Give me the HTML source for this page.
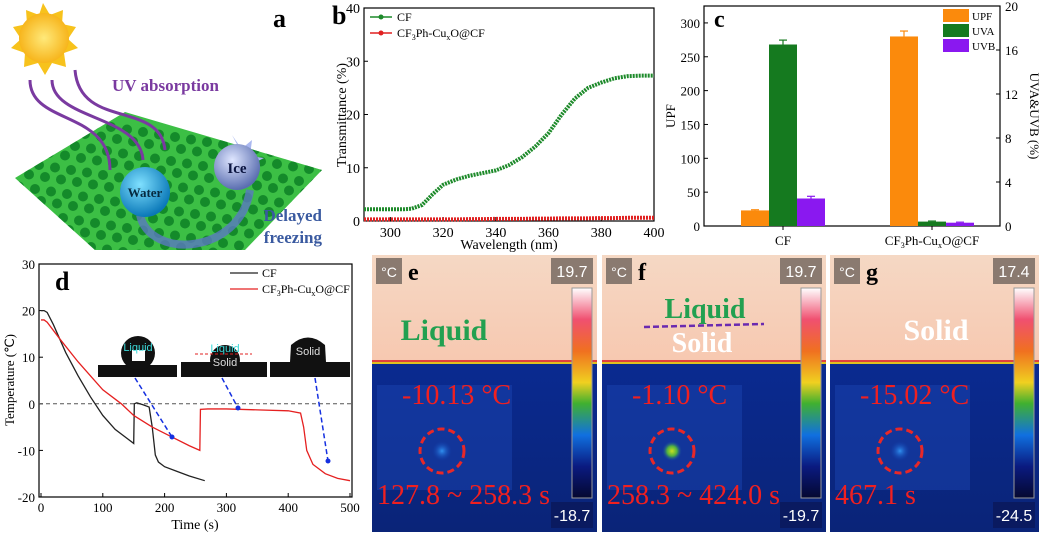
<!DOCTYPE html>
<html><head><meta charset="utf-8"><style>
body{margin:0;background:#fff;width:1041px;height:534px;overflow:hidden}
svg{display:block;font-family:"Liberation Serif",serif}
</style></head><body>
<svg id="s" width="1041" height="534" viewBox="0 0 1041 534">
<defs>
<radialGradient id="sun" cx="50%" cy="50%" r="50%"><stop offset="0" stop-color="#ffe97a"/><stop offset="1" stop-color="#f7b51c"/></radialGradient>
<radialGradient id="water" cx="40%" cy="35%" r="65%"><stop offset="0" stop-color="#7fe0ff"/><stop offset="1" stop-color="#0a78b8"/></radialGradient>
<radialGradient id="ice" cx="40%" cy="35%" r="65%"><stop offset="0" stop-color="#dfe6ff"/><stop offset="1" stop-color="#5a6eb0"/></radialGradient>
<linearGradient id="cbar" x1="0" y1="0" x2="0" y2="1"><stop offset="0" stop-color="#fff"/><stop offset="0.15" stop-color="#f05070"/><stop offset="0.3" stop-color="#f07020"/><stop offset="0.45" stop-color="#f0d020"/><stop offset="0.55" stop-color="#40b030"/><stop offset="0.7" stop-color="#1070e0"/><stop offset="0.85" stop-color="#0a1a80"/><stop offset="1" stop-color="#050830"/></linearGradient>
<linearGradient id="top" x1="0" y1="0" x2="0" y2="1"><stop offset="0" stop-color="#f5d8c4"/><stop offset="1" stop-color="#f7c8b0"/></linearGradient>
<linearGradient id="bot" x1="0" y1="0" x2="0" y2="1"><stop offset="0" stop-color="#0a2a90"/><stop offset="1" stop-color="#0a2478"/></linearGradient>
<radialGradient id="spotE"><stop offset="0" stop-color="#3090f0"/><stop offset="1" stop-color="#1040b0" stop-opacity="0"/></radialGradient>
<radialGradient id="spotF"><stop offset="0" stop-color="#c8e020"/><stop offset="0.5" stop-color="#50b040"/><stop offset="1" stop-color="#1040b0" stop-opacity="0"/></radialGradient>
<clipPath id="meshclip"><polygon points="15,178 125,112 322,170 245,250 95,250"/></clipPath>
</defs>

<g>
  <polygon points="15,178 125,112 322,170 245,250 95,250" fill="#3cbf45"/>
  <g id="dots" fill="#148a2a" clip-path="url(#meshclip)"></g>
  <g>
    <polygon points="43,3 50,15 63,10 62,24 76,27 68,39 78,48 64,53 66,67 52,63 45,75 38,63 24,67 25,53 11,48 21,39 13,27 27,24 26,10 39,15" fill="#f7c21c"/>
    <circle cx="44" cy="38" r="25" fill="url(#sun)"/>
  </g>
  <g fill="none" stroke="#7a3aa0" stroke-width="3">
    <path d="M30,80 C30,125 110,110 110,170"/>
    <path d="M52,80 C52,120 140,115 143,160"/>
    <path d="M75,70 C80,130 160,100 165,150"/>
  </g>
  <text x="112" y="91" font-size="17" font-weight="bold" fill="#7a3aa0">UV absorption</text>
  <path d="M140,215 C150,260 240,255 250,190" fill="none" stroke="#5a78c0" stroke-width="8" opacity="0.8"/>
  <circle cx="145" cy="192" r="25" fill="url(#water)"/>
  <text x="145" y="197" font-size="13" font-weight="bold" text-anchor="middle" fill="#062a40">Water</text>
  <polygon points="232,135 240,150 252,140 250,156 264,158 252,164" fill="#aab8f0"/>
  <circle cx="237" cy="167" r="23" fill="url(#ice)"/>
  <text x="237" y="173" font-size="15" font-weight="bold" text-anchor="middle" fill="#0a1440">Ice</text>
  <text x="322" y="221" font-size="17" font-weight="bold" text-anchor="end" fill="#3a5aa0">Delayed</text>
  <text x="322" y="243" font-size="17" font-weight="bold" text-anchor="end" fill="#3a5aa0">freezing</text>
  <text x="273" y="27" font-size="26" font-weight="bold">a</text>
</g>

<g id="pb"></g>
<g id="pc"></g>
<g id="pd"></g>
<g id="pe"></g>
</svg>
<script>
const NS="http://www.w3.org/2000/svg";
function mk(p,tag,attrs,txt){const e=document.createElementNS(NS,tag);for(const k in attrs)e.setAttribute(k,attrs[k]);if(txt!==undefined)e.textContent=txt;p.appendChild(e);return e;}

const dots=document.getElementById('dots');
for(let r=0;r<12;r++)for(let c=0;c<20;c++){const x=15+c*16+(r%2)*8-r*2, y=112+r*12+c*2.5; mk(dots,'circle',{cx:x,cy:y,r:5});}

// ===== Panel b data =====
const bWave=[290,295,300,305,308,312,316,320,325,330,335,340,345,350,355,360,365,370,375,380,385,390,395,400];
const bCF=[2.2,2.2,2.2,2.2,2.3,3.0,5.0,6.8,7.8,8.5,9.0,9.5,10.5,12.0,14.0,16.5,20.0,23.0,25.0,26.0,26.8,27.2,27.3,27.3];
const bCu=[0.3,0.3,0.3,0.3,0.3,0.3,0.3,0.3,0.3,0.35,0.35,0.4,0.4,0.4,0.45,0.45,0.5,0.5,0.5,0.55,0.55,0.6,0.6,0.6];
const bYTicks=[0,10,20,30,40];
const bXTicks=[300,320,340,360,380,400];
(function(){
 const g=document.getElementById('pb');
 const X=v=>364+(v-290)/(110)*290, Y=v=>221-v/40*213;
 mk(g,'rect',{x:364,y:8,width:290,height:213,fill:'none',stroke:'#000','stroke-width':1.2});
 bYTicks.forEach(t=>{mk(g,'line',{x1:364,x2:368,y1:Y(t),y2:Y(t),stroke:'#000'});const l=mk(g,'text',{x:360,y:Y(t)+5,'font-size':14,'text-anchor':'end'},t);});
 bXTicks.forEach(t=>{mk(g,'line',{x1:X(t),x2:X(t),y1:221,y2:217,stroke:'#000'});const l=mk(g,'text',{x:X(t),y:237,'font-size':14,'text-anchor':'middle'},t);});
 const xt=mk(g,'text',{x:509,y:249,'font-size':14,'text-anchor':'middle'},'Wavelength (nm)');
 const yt=mk(g,'text',{x:346,y:115,'font-size':14,'text-anchor':'middle',transform:'rotate(-90 346 115)'},'Transmittance (%)');
 const mkLine=(arr,col,name)=>{const p=mk(g,'polyline',{points:bWave.map((w,i)=>X(w)+','+Y(arr[i])).join(' '),fill:'none',stroke:col,'stroke-width':4,'stroke-dasharray':'2 1'});};
 mkLine(bCF,'#1d8a2a','cf-line');mkLine(bCu,'#e02020','cuxo-line');
 mk(g,'line',{x1:370,x2:392,y1:17,y2:17,stroke:'#1d8a2a','stroke-width':1.5});mk(g,'circle',{cx:381,cy:17,r:2.5,fill:'#1d8a2a'});
 mk(g,'text',{x:397,y:21,'font-size':12},'CF');
 mk(g,'line',{x1:370,x2:392,y1:33,y2:33,stroke:'#e02020','stroke-width':1.5});mk(g,'circle',{cx:381,cy:33,r:2.5,fill:'#e02020'});
 const lt=mk(g,'text',{x:397,y:37,'font-size':12});lt.innerHTML='CF<tspan font-size="8" dy="3">3</tspan><tspan dy="-3">Ph-Cu</tspan><tspan font-size="8" dy="3">x</tspan><tspan dy="-3">O@CF</tspan>';
 mk(g,'text',{x:332,y:24,'font-size':26,'font-weight':'bold'},'b');
})();

// ===== Panel c data =====
const cCats=['CF','CF3Ph-CuxO@CF'];
const cUPF=[23,280];
const cUVA=[16.5,0.4];
const cUVB=[2.5,0.3];
const cUPFerr=[1,8];const cUVAerr=[0.4,0.05];const cUVBerr=[0.2,0.05];
const cLeftTicks=[0,50,100,150,200,250,300];
const cRightTicks=[0,4,8,12,16,20];
(function(){
 const g=document.getElementById('pc');
 const L=704,R=1000,T=6,B=226;
 const Yl=v=>B-v/325*(B-T), Yr=v=>B-v/20*(B-T);
 const catX=[783,932];
 mk(g,'rect',{x:L,y:T,width:R-L,height:B-T,fill:'none',stroke:'#000','stroke-width':1.2});
 cLeftTicks.forEach(t=>{mk(g,'line',{x1:L,x2:L+4,y1:Yl(t),y2:Yl(t),stroke:'#000'});mk(g,'text',{x:L-4,y:Yl(t)+5,'font-size':13,'text-anchor':'end'},t);});
 cRightTicks.forEach(t=>{mk(g,'line',{x1:R,x2:R-4,y1:Yr(t),y2:Yr(t),stroke:'#000'});mk(g,'text',{x:R+5,y:Yr(t)+5,'font-size':13},t);});
 const bw=28;
 const series=[[cUPF,cUPFerr,'#fb8a0c',Yl,'upf-bar'],[cUVA,cUVAerr,'#157a1f',Yr,'uva-bar'],[cUVB,cUVBerr,'#8a18f0',Yr,'uvb-bar']];
 cCats.forEach((c,i)=>{series.forEach((s,j)=>{const x=catX[i]+(j-1)*bw-bw/2;const y=s[3](s[0][i]);const r=mk(g,'rect',{x:x,y:y,width:bw,height:B-y,fill:s[2]});
   const ye=s[3](s[0][i]+s[1][i]);mk(g,'line',{x1:x+bw/2,x2:x+bw/2,y1:ye,y2:y,stroke:s[2],'stroke-width':1.2});mk(g,'line',{x1:x+bw/2-4,x2:x+bw/2+4,y1:ye,y2:ye,stroke:s[2],'stroke-width':1.2});});
   mk(g,'line',{x1:catX[i],x2:catX[i],y1:B,y2:B+4,stroke:'#000'});});
 mk(g,'text',{x:783,y:245,'font-size':13,'text-anchor':'middle'},'CF');
 const ct=mk(g,'text',{x:932,y:245,'font-size':13,'text-anchor':'middle'});ct.innerHTML='CF<tspan font-size="8" dy="3">3</tspan><tspan dy="-3">Ph-Cu</tspan><tspan font-size="8" dy="3">x</tspan><tspan dy="-3">O@CF</tspan>';
 const yl=mk(g,'text',{x:675,y:116,'font-size':13,'text-anchor':'middle',transform:'rotate(-90 675 116)'},'UPF');
 const yr=mk(g,'text',{x:1030,y:116,'font-size':13,'text-anchor':'middle',transform:'rotate(90 1030 116)'},'UVA&UVB (%)');
 [['UPF','#fb8a0c'],['UVA','#157a1f'],['UVB','#8a18f0']].forEach((l,i)=>{mk(g,'rect',{x:943,y:9+i*15,width:26,height:13,fill:l[1]});mk(g,'text',{x:972,y:20+i*15,'font-size':11},l[0]);});
 mk(g,'text',{x:714,y:27,'font-size':24,'font-weight':'bold'},'c');
})();

// ===== Panel d data =====
const dCFt=[0,5,10,20,30,40,60,80,100,120,140,150,151,155,165,175,180,185,190,200,220,240,265];
const dCFv=[20,20,19.6,17,14,11,6,1.5,-2.5,-5.5,-7.5,-8.5,0,0.2,-0.2,-0.7,-5,-11,-12.5,-13.5,-14.5,-15.5,-16.5];
const dCut=[0,5,10,30,60,100,130,150,180,210,240,257,258,270,300,350,400,420,425,430,440,460,480,500];
const dCuv=[18,18,17.5,14,9,3,0,-2.5,-5,-7,-9,-10,-1.2,-1.1,-1.1,-1.3,-1.5,-2,-5,-10,-13,-15,-16,-16.5];
const dYTicks=[-20,-10,0,10,20,30];
const dXTicks=[0,100,200,300,400,500];
(function(){
 const g=document.getElementById('pd');
 const L=39,R=352,T=264,B=497;
 const X=v=>41+v/500*309, Y=v=>B-(v+20)/50*(B-T);
 mk(g,'rect',{x:L,y:T,width:R-L,height:B-T,fill:'#fff',stroke:'#000','stroke-width':1.2});
 dYTicks.forEach(t=>{mk(g,'line',{x1:L,x2:L+4,y1:Y(t),y2:Y(t),stroke:'#000'});mk(g,'text',{x:L-4,y:Y(t)+5,'font-size':13,'text-anchor':'end'},t);});
 dXTicks.forEach(t=>{mk(g,'line',{x1:X(t),x2:X(t),y1:B,y2:B-4,stroke:'#000'});mk(g,'text',{x:X(t),y:B+15,'font-size':13,'text-anchor':'middle'},t);});
 mk(g,'line',{x1:L,x2:R,y1:Y(0),y2:Y(0),stroke:'#555','stroke-dasharray':'4 3'});
 const pl=(t,v,c,n)=>{const p=mk(g,'polyline',{points:t.map((x,i)=>X(x)+','+Y(v[i])).join(' '),fill:'none',stroke:c,'stroke-width':1.3});};
 pl(dCFt,dCFv,'#222','cf-temperature-line');pl(dCut,dCuv,'#e52020','cuxo-temperature-line');
 mk(g,'text',{x:195,y:529,'font-size':14,'text-anchor':'middle'},'Time (s)');
 mk(g,'text',{x:14,y:380,'font-size':13,'text-anchor':'middle',transform:'rotate(-90 14 380)'},'Temperature (℃)');
 mk(g,'line',{x1:230,x2:258,y1:273,y2:273,stroke:'#222','stroke-width':1.3});mk(g,'text',{x:262,y:277,'font-size':12},'CF');
 mk(g,'line',{x1:230,x2:258,y1:289,y2:289,stroke:'#e52020','stroke-width':1.3});
 const lt=mk(g,'text',{x:262,y:293,'font-size':12});lt.innerHTML='CF<tspan font-size="8" dy="3">3</tspan><tspan dy="-3">Ph-Cu</tspan><tspan font-size="8" dy="3">x</tspan><tspan dy="-3">O@CF</tspan>';
 mk(g,'text',{x:55,y:290,'font-size':26,'font-weight':'bold'},'d');
 mk(g,'rect',{x:98,y:365,width:79,height:12,fill:'#111'});mk(g,'circle',{cx:138,cy:353,r:17,fill:'#111'});mk(g,'rect',{x:132,y:350,width:13,height:11,fill:'#fff'});
 mk(g,'text',{x:138,y:351,'font-size':11,'text-anchor':'middle',fill:'#3ad8d8','font-family':'Liberation Sans'},'Liquid');
 mk(g,'rect',{x:181,y:362,width:86,height:15,fill:'#111'});mk(g,'circle',{cx:225,cy:360,r:15,fill:'#111'});
 mk(g,'text',{x:225,y:352,'font-size':11,'text-anchor':'middle',fill:'#3ad8d8','font-family':'Liberation Sans'},'Liquid');
 mk(g,'line',{x1:195,x2:252,y1:354,y2:354,stroke:'#e02020','stroke-dasharray':'3 2'});
 mk(g,'text',{x:225,y:366,'font-size':11,'text-anchor':'middle',fill:'#ddd','font-family':'Liberation Sans'},'Solid');
 mk(g,'rect',{x:270,y:362,width:80,height:15,fill:'#111'});mk(g,'path',{d:'M290,362 L291,345 Q308,330 325,345 L326,362 Z',fill:'#111'});
 mk(g,'text',{x:308,y:355,'font-size':11,'text-anchor':'middle',fill:'#ddd','font-family':'Liberation Sans'},'Solid');
 [[135,378,172,437],[222,378,238,408],[315,378,328,461]].forEach(a=>{mk(g,'line',{x1:a[0],y1:a[1],x2:a[2],y2:a[3],stroke:'#1530e0','stroke-width':1.5,'stroke-dasharray':'5 3'});mk(g,'circle',{cx:a[2],cy:a[3],r:2.5,fill:'#1530e0'});});
})();

// ===== Thermal panels =====
const thermal=[
 {id:'e',x:372,w:225,top:'19.7',bot:'-18.7',temp:'-10.13 °C',time:'127.8 ~ 258.3 s',spot:'url(#spotE)',state:'liquid'},
 {id:'f',x:602,w:224,top:'19.7',bot:'-19.7',temp:'-1.10 °C',time:'258.3 ~ 424.0 s',spot:'url(#spotF)',state:'mixed'},
 {id:'g',x:830,w:209,top:'17.4',bot:'-24.5',temp:'-15.02 °C',time:'467.1 s',spot:'url(#spotE)',state:'solid'}];
(function(){
 const g=document.getElementById('pe');
 thermal.forEach(p=>{
  const pg=mk(g,'g',{});
  
  
  const T=255,Bm=532,I=363;
  mk(pg,'rect',{x:p.x,y:T,width:p.w,height:I-T,fill:'url(#top)'});
  mk(pg,'rect',{x:p.x,y:I-3,width:p.w,height:2,fill:'#e04040'});
  mk(pg,'rect',{x:p.x,y:I-1,width:p.w,height:2,fill:'#e0c020'});
  mk(pg,'rect',{x:p.x,y:I+1,width:p.w,height:Bm-I-1,fill:'url(#bot)'});
  mk(pg,'rect',{x:p.x+5,y:385,width:135,height:105,fill:'#1a44b0',opacity:0.5});
  mk(pg,'circle',{cx:p.x+70,cy:451,r:10,fill:p.spot});
  mk(pg,'circle',{cx:p.x+70,cy:451,r:22,fill:'none',stroke:'#e82828','stroke-width':3,'stroke-dasharray':'7 4'});
  const cx=p.x+p.w-25;
  mk(pg,'rect',{x:cx,y:288,width:20,height:210,fill:'url(#cbar)',stroke:'#999'});
  mk(pg,'rect',{x:p.x+p.w-46,y:258,width:42,height:26,fill:'#8a7a70'});
  mk(pg,'text',{x:p.x+p.w-25,y:277,'font-size':16,'text-anchor':'middle',fill:'#fff','font-family':'Liberation Sans'},p.top);
  mk(pg,'rect',{x:p.x+p.w-46,y:502,width:42,height:26,fill:'#0a1a60'});
  mk(pg,'text',{x:p.x+p.w-25,y:521,'font-size':16,'text-anchor':'middle',fill:'#fff','font-family':'Liberation Sans'},p.bot);
  mk(pg,'rect',{x:p.x+4,y:258,width:26,height:26,fill:'#8a7a70'});
  mk(pg,'text',{x:p.x+17,y:277,'font-size':14,'text-anchor':'middle',fill:'#fff','font-family':'Liberation Sans'},'°C');
  mk(pg,'text',{x:p.x+36,y:280,'font-size':24,'font-weight':'bold'},p.id);
  if(p.state==='liquid')mk(pg,'text',{x:p.x+72,y:340,'font-size':30,'font-weight':'bold','text-anchor':'middle',fill:'#22a050'},'Liquid');
  if(p.state==='mixed'){mk(pg,'text',{x:p.x+103,y:318,'font-size':28,'font-weight':'bold','text-anchor':'middle',fill:'#22a050'},'Liquid');
   mk(pg,'line',{x1:p.x+42,x2:p.x+162,y1:327,y2:324,stroke:'#6a2ab0','stroke-width':2.5,'stroke-dasharray':'6 3'});
   mk(pg,'text',{x:p.x+100,y:352,'font-size':28,'font-weight':'bold','text-anchor':'middle',fill:'#fff'},'Solid');}
  if(p.state==='solid')mk(pg,'text',{x:p.x+106,y:340,'font-size':30,'font-weight':'bold','text-anchor':'middle',fill:'#fff'},'Solid');
  mk(pg,'text',{x:p.x+30,y:404,'font-size':28,fill:'#f02020'},p.temp);
  mk(pg,'text',{x:p.x+5,y:504,'font-size':28,fill:'#f02020'},p.time);
 });
})();
</script>
</body></html>
